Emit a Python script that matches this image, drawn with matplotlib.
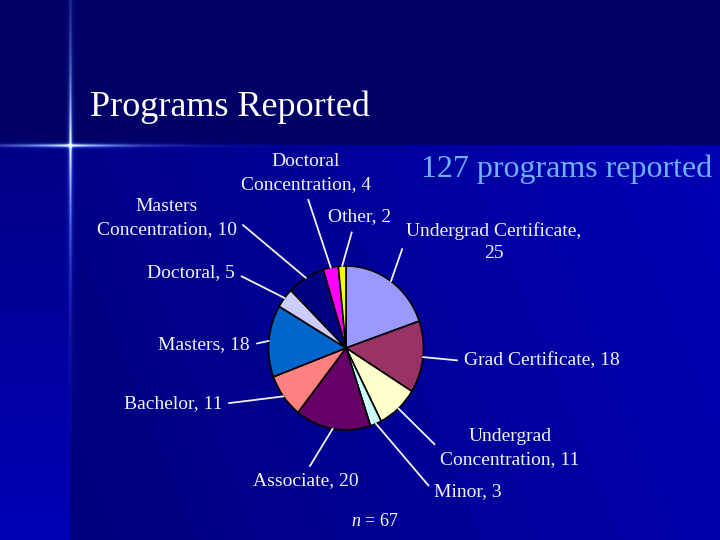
import matplotlib
matplotlib.use("Agg")
import matplotlib.pyplot as plt
import numpy as np

# data
labels = ["Undergrad Certificate,\n25", "Grad Certificate, 18", "Undergrad\nConcentration, 11",
          "Minor, 3", "Associate, 20", "Bachelor, 11", "Masters, 18", "Doctoral, 5",
          "Masters\nConcentration, 10", "Doctoral\nConcentration, 4", "Other, 2"]
counts = [25, 18, 11, 3, 20, 11, 18, 5, 10, 4, 2]
colors = ["#9999FF", "#993366", "#FFFFCC", "#CCFFFF", "#660066", "#FF8080",
          "#0066CC", "#CCCCFF", "#000080", "#FF00FF", "#FFFF00"]

# label placement in figure pixels (x, y from top), alignment, leader attach point
label_pos = [(494, 242, "center", (0, 0.62)), (464, 361, "left", (0, 0.5)),
             (510, 448, "center", (0, 0.45)), (434, 492, "left", (0, 0.5)),
             (306, 481, "center", (0.5, 1)), (222, 404, "right", (1, 0.5)),
             (250, 345, "right", (1, 0.5)), (235, 273, "right", (1, 0.5)),
             (167, 218, "center", (1, 0.45)), (306, 173, "center", (0.5, 0)),
             (360, 217, "center", (0.4, 0))]

W, H = 720, 540
plt.rcParams["font.family"] = ["Liberation Serif", "DejaVu Serif"]
plt.rcParams["mathtext.fontset"] = "custom"
plt.rcParams["mathtext.it"] = "Liberation Serif:italic"
plt.rcParams["mathtext.rm"] = "Liberation Serif"

fig = plt.figure(figsize=(7.2, 5.4), dpi=100)

# --- background slide ---
yy, xx = np.mgrid[0:H, 0:W].astype(float)
bg = np.zeros((H, W, 3))
blue = np.where(yy < 145, 0.40, 0.47 + 0.20 * (xx / W) + 0.06 * (1 - yy / H))
blue = np.where((yy >= 145) & (xx < 70), 0.52 + 0.20 * (yy - 145) / (H - 145), blue)
bg[..., 2] = blue
# lens flare
v = np.exp(-((xx - 70) / 1.3) ** 2) * np.exp(-np.abs(yy - 145) / 70.0)
h = np.exp(-((yy - 145) / 1.4) ** 2) * np.exp(-np.abs(xx - 70) / 45.0)
glow = np.exp(-((xx - 70) / 3.5) ** 2) * np.exp(-np.abs(yy - 145) / 110.0) * 0.5 \
     + np.exp(-((yy - 145) / 3.0) ** 2) * np.exp(-np.abs(xx - 70) / 70.0) * 0.5
flare = np.clip(v + h, 0, 1)
bg[..., 0] += 0.9 * flare + 0.15 * glow
bg[..., 1] += 0.9 * flare + 0.35 * glow
bg[..., 2] += 0.6 * flare + 0.5 * glow
bg = np.clip(bg, 0, 1)
ax_bg = fig.add_axes([0, 0, 1, 1])
ax_bg.imshow(bg, extent=(0, W, H, 0), aspect="auto")
ax_bg.axis("off")

# --- pie ---
cx, cy, rx, ry = 346, 348, 77.5, 82
ax = fig.add_axes([(cx - rx) / W, 1 - (cy + ry) / H, 2 * rx / W, 2 * ry / H])
wedges, _ = ax.pie(counts, colors=colors, startangle=90, counterclock=False,
                   wedgeprops=dict(edgecolor="black", linewidth=1.2))
ax.set_aspect("auto")
ax.set_xlim(-1, 1)
ax.set_ylim(-1, 1)

for w, lab, (lx, ly, ha, rp) in zip(wedges, labels, label_pos):
    ang = np.deg2rad((w.theta1 + w.theta2) / 2)
    ax.annotate(lab, xy=(np.cos(ang), np.sin(ang)), xycoords="data",
                xytext=(lx / W, 1 - ly / H), textcoords="figure fraction",
                ha=ha, va="center", multialignment="center", fontsize=14,
                linespacing=1.45, color="#f2f2f2",
                arrowprops=dict(arrowstyle="-", color="#f2f2f2", lw=1.3,
                                relpos=rp, shrinkA=3, shrinkB=0))

fig.text(90 / W, 1 - 107 / H, "Programs Reported", fontsize=26, color="white",
         ha="left", va="center")
fig.text(567 / W, 1 - 169 / H, "127 programs reported", fontsize=23, color="#6fb0ff",
         ha="center", va="center")
fig.text(375 / W, 1 - 521 / H, r"$n$ = 67", fontsize=13, color="white",
         ha="center", va="center")

fig.savefig("out.png", dpi=100)
